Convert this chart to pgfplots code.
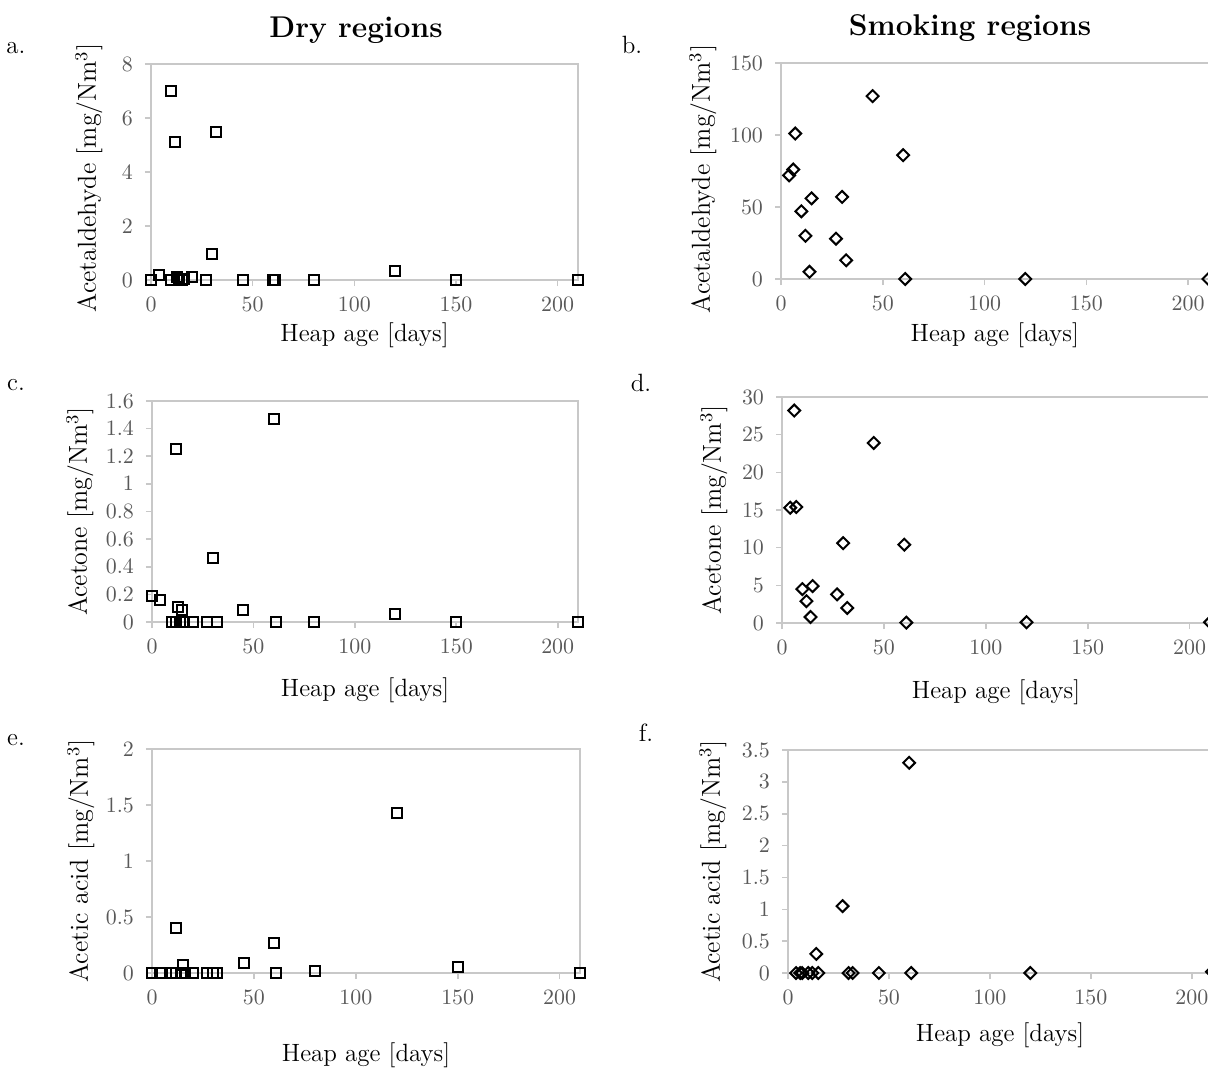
\documentclass[border=0pt]{standalone}
\usepackage{pgfplots}
\pgfplotsset{compat=1.18}
\definecolor{axgray}{HTML}{C8C8C8}
\definecolor{tickgray}{HTML}{595959}

\pgfplotsset{
  panel/.style={
    scale only axis,
    anchor=south west,
    xmin=0, xmax=210, ymin=0,
    xtick={0,50,...,200},
    axis line style={draw=axgray, line width=0.8pt},
    tick style={draw=axgray, line width=0.8pt},
    tick align=outside,
    major tick length=3pt,
    xtick pos=bottom, ytick pos=left,
    ticklabel style={font=\fontsize{11}{13}\selectfont, text=tickgray},
    xticklabel shift=2pt,
    yticklabel shift=2.5pt,
    label style={font=\fontsize{12.5}{15}\selectfont},
    ylabel style={font=\fontsize{13}{16}\selectfont},
    xlabel={Heap age [days]},
    ylabel style={at={(axis description cs:0,0.5)}, anchor=center},
    xlabel style={at={(axis description cs:0.5,0)}, anchor=center},
  },
  dry/.style={only marks, mark=square, mark size=2.5pt,
    mark options={line width=1pt, draw=black, fill=none}},
  smoke/.style={only marks, mark=square, mark size=2.1pt,
    mark options={rotate=45, line width=1pt, draw=black, fill=none}},
}

\begin{document}
\begin{tikzpicture}
\useasboundingbox (0,0) rectangle (604pt,-535pt);
\fill[white] (0,0) rectangle (604pt,-535pt);

% titles and panel letters
\node[font=\fontsize{15}{18}\selectfont\bfseries] at (178pt,-15pt) {Dry regions};
\node[font=\fontsize{15}{18}\selectfont\bfseries] at (485pt,-14pt) {Smoking regions};
\node[font=\fontsize{12.5}{15}\selectfont] at (8pt,-24pt) {a.};
\node[font=\fontsize{12.5}{15}\selectfont] at (316pt,-22.5pt) {b.};
\node[font=\fontsize{12.5}{15}\selectfont] at (8pt,-192.5pt) {c.};
\node[font=\fontsize{12.5}{15}\selectfont] at (320.5pt,-191.5pt) {d.};
\node[font=\fontsize{12.5}{15}\selectfont] at (8pt,-370pt) {e.};
\node[font=\fontsize{12.5}{15}\selectfont] at (323pt,-366.5pt) {f.};

% a. dry, acetaldehyde
\begin{axis}[panel, at={(75.5pt,-140pt)}, width=213.5pt, height=108pt,
  ymax=8, ytick={0,2,...,8},
  ylabel={Acetaldehyde [mg/Nm$^3$]},
  ylabel style={yshift=31pt, xshift=-3pt}, xlabel style={yshift=-27.5pt}]
\addplot[dry] coordinates {
  (0,0) (4,0.18) (10,7.0) (10,0) (12,5.12) (13,0.1) (14,0.05) (15,0)
  (16,0.02) (20,0.12) (27,0) (30,0.98) (32,5.5) (45,0) (60,0) (61,0)
  (80,0) (120,0.33) (150,0) (210,0)};
\end{axis}

% b. smoking, acetaldehyde
\begin{axis}[panel, at={(390.5pt,-139.5pt)}, width=213.75pt, height=108pt,
  ymax=150, ytick={0,50,...,150},
  ylabel={Acetaldehyde [mg/Nm$^3$]},
  ylabel style={yshift=39pt, xshift=-4pt}, xlabel style={yshift=-28pt}]
\addplot[smoke] coordinates {
  (4,72) (6,76) (7,101) (10,47) (12,30) (14,5) (15,56) (27,28)
  (30,57) (32,13) (45,127) (60,86) (61,0) (120,0) (210,0)};
\end{axis}

% c. dry, acetone
\begin{axis}[panel, at={(76pt,-311pt)}, width=213pt, height=110.5pt,
  ymax=1.6, ytick={0,0.2,...,1.6},
  ylabel={Acetone [mg/Nm$^3$]},
  ylabel style={yshift=36pt}, xlabel style={yshift=-34pt}]
\addplot[dry] coordinates {
  (0,0.19) (4,0.16) (10,0) (12,0) (12,1.25) (13,0.11) (14,0) (15,0.09)
  (16,0) (20,0) (27,0) (30,0.46) (32,0) (45,0.09) (60,1.47) (61,0)
  (80,0) (120,0.06) (150,0) (210,0)};
\end{axis}

% d. smoking, acetone
\begin{axis}[panel, at={(391pt,-311.5pt)}, width=214pt, height=113pt,
  ymax=30, ytick={0,5,...,30},
  ylabel={Acetone [mg/Nm$^3$]},
  ylabel style={yshift=34pt}, xlabel style={yshift=-34.5pt}]
\addplot[smoke] coordinates {
  (4,15.3) (6,28.2) (7,15.4) (10,4.5) (12,2.9) (14,0.8) (15,4.9) (27,3.8)
  (30,10.6) (32,2.0) (45,23.9) (60,10.4) (61,0.05) (120,0.1) (210,0.1)};
\end{axis}

% e. dry, acetic acid
\begin{axis}[panel, at={(76pt,-486.5pt)}, width=214pt, height=112pt,
  ymax=2, ytick={0,0.5,...,2},
  ylabel={Acetic acid [mg/Nm$^3$]},
  ylabel style={yshift=35.5pt}, xlabel style={yshift=-41pt}]
\addplot[dry] coordinates {
  (0,0) (4,0) (10,0) (12,0) (12,0.40) (14,0) (15,0.07) (16,0) (20,0)
  (27,0) (30,0) (32,0) (45,0.09) (60,0.27) (61,0) (80,0.02) (120,1.43)
  (150,0.05) (210,0)};
\end{axis}

% f. smoking, acetic acid
\begin{axis}[panel, at={(394pt,-486.5pt)}, width=212pt, height=111.5pt,
  ymax=3.5, ytick={0,0.5,...,3.5},
  ylabel={Acetic acid [mg/Nm$^3$]},
  ylabel style={yshift=37.5pt}, xlabel style={yshift=-31pt}]
\addplot[smoke] coordinates {
  (4,0) (6,0) (7,0) (10,0) (12,0) (14,0.30) (15,0) (27,1.05) (30,0)
  (32,0) (45,0) (60,3.3) (61,0) (120,0) (210,0.02)};
\end{axis}
\end{tikzpicture}
\end{document}
